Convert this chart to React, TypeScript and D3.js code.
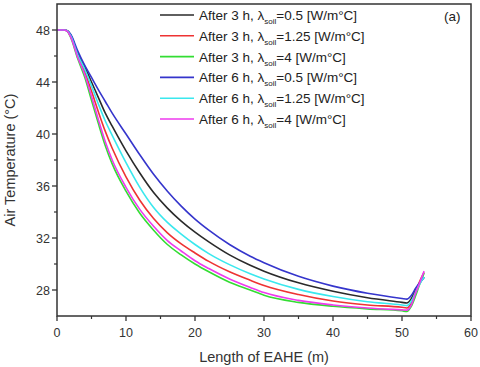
import React from "react";
import * as d3 from "d3";

// x positions along the EAHE (m)
const lengths = [0, 1, 1.5, 2, 3, 4, 5, 6, 7, 8, 10, 12, 14, 16, 18, 20, 22, 25, 28, 30, 35, 40, 45, 50, 50.7, 51.3, 52, 52.6, 53.2];

const black3h05 = [48, 48, 47.94, 47.6, 46.2, 45.2, 44.0, 42.8, 41.6, 40.6, 38.7, 37.0, 35.5, 34.3, 33.3, 32.45, 31.7, 30.7, 29.9, 29.45, 28.55, 27.9, 27.4, 27.05, 27.0, 27.3, 28.0, 28.55, 29.0];
const red3h125 = [48, 48, 47.92, 47.5, 46.0, 44.8, 43.3, 41.7, 40.2, 38.9, 36.7, 34.9, 33.5, 32.4, 31.55, 30.85, 30.2, 29.4, 28.75, 28.35, 27.65, 27.15, 26.85, 26.67, 26.62, 26.95, 27.9, 28.7, 29.35];
const green3h4 = [48, 48, 47.9, 47.4, 45.8, 44.4, 42.6, 40.8, 39.1, 37.7, 35.6, 33.9, 32.6, 31.5, 30.7, 30.0, 29.4, 28.6, 28.0, 27.6, 27.05, 26.75, 26.55, 26.4, 26.35, 26.7, 27.6, 28.5, 29.3];
const blue6h05 = [48, 48, 47.95, 47.65, 46.4, 45.3, 44.35, 43.4, 42.5, 41.6, 40.0, 38.4, 36.9, 35.6, 34.45, 33.45, 32.6, 31.5, 30.6, 30.1, 29.05, 28.3, 27.75, 27.35, 27.3, 27.55, 28.15, 28.6, 28.95];
const cyan6h125 = [48, 48, 47.93, 47.55, 46.1, 45.0, 43.7, 42.3, 41.0, 39.9, 37.8, 35.9, 34.35, 33.2, 32.3, 31.5, 30.8, 29.95, 29.25, 28.85, 28.05, 27.5, 27.1, 26.85, 26.8, 27.1, 27.85, 28.5, 29.0];
const magenta6h4 = [48, 48, 47.9, 47.45, 45.9, 44.6, 42.9, 41.1, 39.4, 38.0, 35.9, 34.2, 32.9, 31.8, 31.0, 30.25, 29.65, 28.85, 28.2, 27.8, 27.2, 26.85, 26.62, 26.47, 26.45, 26.8, 27.8, 28.6, 29.45];

const seriesHours = ["3", "3", "3", "6", "6", "6"];
const seriesLambda = ["0.5", "1.25", "4", "0.5", "1.25", "4"];
const seriesColors = ["#2a2a2a", "#ee3333", "#33dd33", "#3535cc", "#3ae8ee", "#ee3aee"];
const seriesValues = [black3h05, red3h125, green3h4, blue6h05, cyan6h125, magenta6h4];

const xTicks = [0, 10, 20, 30, 40, 50, 60];
const xMinorTicks = [5, 15, 25, 35, 45, 55];
const yTicks = [28, 32, 36, 40, 44, 48];
const yMinorTicks = [30, 34, 38, 42, 46];

export default function App() {
  const W = 480;
  const H = 367;
  const m = { left: 57, right: 471, top: 4, bottom: 316 };

  const x = d3.scaleLinear().domain([0, 60]).range([m.left, m.right]);
  const y = d3.scaleLinear().domain([26, 50]).range([m.bottom, m.top]);

  const line = d3
    .line<number>()
    .x((_, i) => x(lengths[i]))
    .y((d) => y(d))
    .curve(d3.curveMonotoneX);

  const axisColor = "#333";
  const font = "'Liberation Sans', Arial, sans-serif";

  return (
    <svg
      width={W}
      height={H}
      style={{ position: "absolute", left: 0, top: 0, background: "#fff" }}
      fontFamily={font}
    >
      <rect x={0} y={0} width={W} height={H} fill="#fff" />

      {seriesValues.map((vals, i) => (
        <path
          key={i}
          d={line(vals) || ""}
          fill="none"
          stroke={seriesColors[i]}
          strokeWidth={1.6}
        />
      ))}

      {/* frame */}
      <rect
        x={m.left}
        y={m.top}
        width={m.right - m.left}
        height={m.bottom - m.top}
        fill="none"
        stroke={axisColor}
        strokeWidth={1.5}
      />

      {/* x axis ticks */}
      {xTicks.map((t) => (
        <g key={"xt" + t}>
          <line x1={x(t)} x2={x(t)} y1={m.bottom} y2={m.bottom + 5} stroke={axisColor} strokeWidth={1.3} />
          <text x={x(t)} y={m.bottom + 21} textAnchor="middle" fontSize={12.5} fill="#333">
            {t}
          </text>
        </g>
      ))}
      {xMinorTicks.map((t) => (
        <line key={"xm" + t} x1={x(t)} x2={x(t)} y1={m.bottom} y2={m.bottom + 3} stroke={axisColor} strokeWidth={1.2} />
      ))}

      {/* y axis ticks */}
      {yTicks.map((t) => (
        <g key={"yt" + t}>
          <line x1={m.left - 5} x2={m.left} y1={y(t)} y2={y(t)} stroke={axisColor} strokeWidth={1.3} />
          <text x={m.left - 7} y={y(t) + 4.5} textAnchor="end" fontSize={12.5} fill="#333">
            {t}
          </text>
        </g>
      ))}
      {yMinorTicks.map((t) => (
        <line key={"ym" + t} x1={m.left - 3} x2={m.left} y1={y(t)} y2={y(t)} stroke={axisColor} strokeWidth={1.2} />
      ))}

      {/* axis titles */}
      <text x={(m.left + m.right) / 2} y={362} textAnchor="middle" fontSize={14.5} fill="#333">
        Length of EAHE (m)
      </text>
      <text
        transform={`translate(15, ${(m.top + m.bottom) / 2}) rotate(-90)`}
        textAnchor="middle"
        fontSize={14.5}
        fill="#333"
      >
        Air Temperature (°C)
      </text>

      {/* legend */}
      {seriesValues.map((_, i) => {
        const ly = 15 + i * 20.8;
        return (
          <g key={"lg" + i}>
            <line x1={160} x2={194} y1={ly} y2={ly} stroke={seriesColors[i]} strokeWidth={1.6} />
            <text x={199} y={ly + 5} fontSize={13.5} fill="#222">
              {`After ${seriesHours[i]} h, λ`}
              <tspan fontSize={8} dy={4}>soil</tspan>
              <tspan dy={-4}>{`=${seriesLambda[i]} [W/m°C]`}</tspan>
            </text>
          </g>
        );
      })}

      <text x={444} y={21} fontSize={13.5} fill="#222">
        (a)
      </text>
    </svg>
  );
}
